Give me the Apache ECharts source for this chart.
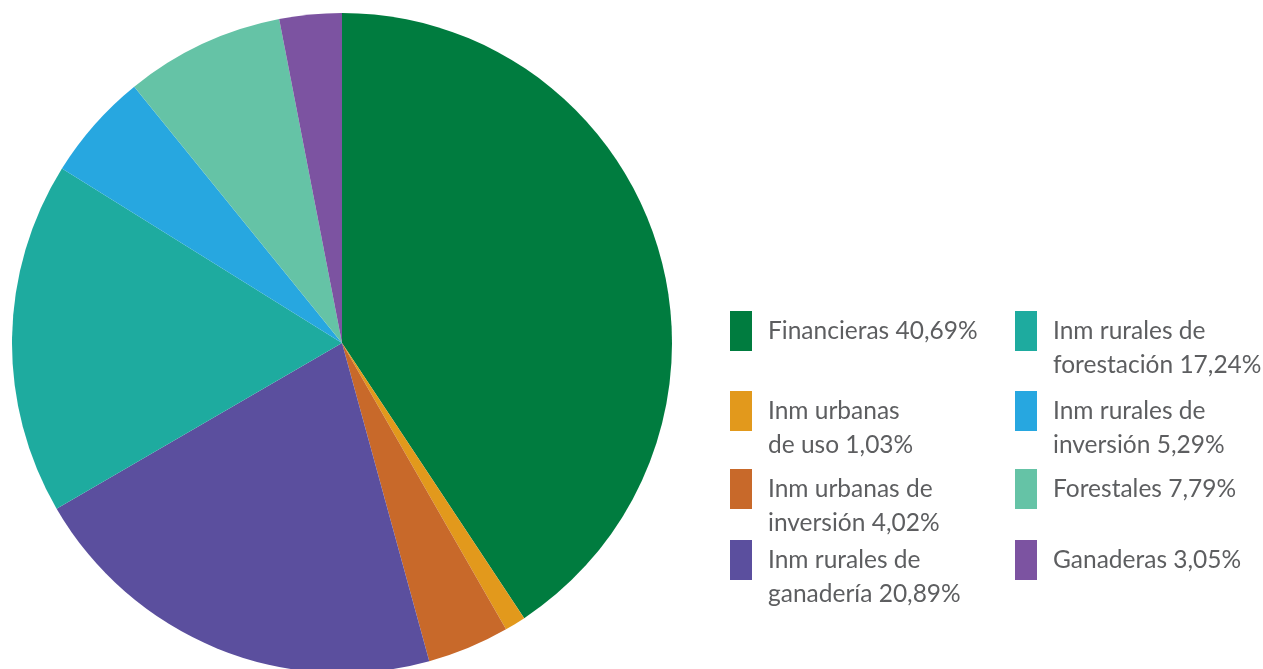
<!DOCTYPE html>
<html>
<head>
<meta charset="utf-8">
<script src="https://cdn.jsdelivr.net/npm/echarts@6/dist/echarts.min.js"></script>
<style>
  html, body { margin: 0; padding: 0; background: #fff; }
  #main { width: 1263px; height: 669px; }
</style>
</head>
<body>
<div id="main"></div>
<script>
// categorias y porcentajes (orden horario desde arriba)
const categories = [
  'Financieras',
  'Inm urbanas\nde uso',
  'Inm urbanas de\ninversión',
  'Inm rurales de\nganadería',
  'Inm rurales de\nforestación',
  'Inm rurales de\ninversión',
  'Forestales',
  'Ganaderas'
];
const values = [40.69, 1.03, 4.02, 20.89, 17.24, 5.29, 7.79, 3.05];
const colors = ['#007c3f', '#e2991c', '#c8692a', '#5b4f9e', '#1eab9f', '#27a7e0', '#65c3a6', '#7c53a1'];

// posicion de cada cuadro de la leyenda: [columna, fila]
const legendCol = [0, 0, 0, 0, 1, 1, 1, 1];
const legendRow = [0, 1, 2, 3, 0, 1, 2, 3];
const colLeft = [730, 1015];
const rowTop = [311, 391, 469, 540];

const lineH = 34;
const iconW = 22;
const iconH = 40;

function fmt(v) {
  return v.toFixed(2).replace('.', ',') + '%';
}

const legends = categories.map(function (name, i) {
  const lines = name.split('\n').length;
  // el texto se centra en el cuadro: se antepone una linea vacia
  // por cada linea extra para que la primera quede a la altura del cuadro
  const blank = '\n'.repeat(lines - 1);
  const blockH = (2 * lines - 1) * lineH;
  const offset = Math.max(0, blockH / 2 - iconH / 2);
  return {
    data: [name],
    orient: 'vertical',
    left: colLeft[legendCol[i]],
    top: rowTop[legendRow[i]] - offset,
    padding: 0,
    icon: 'rect',
    itemWidth: iconW,
    itemHeight: iconH,
    formatter: function (n) { return blank + n + ' ' + fmt(values[i]); },
    textStyle: {
      fontFamily: 'Lato',
      fontSize: 24.5,
      color: '#5d5e60',
      lineHeight: lineH,
      padding: [0, 0, 0, 11]
    }
  };
});

const chart = echarts.init(document.getElementById('main'));
chart.setOption({
  animation: false,
  color: colors,
  legend: legends,
  series: [{
    type: 'pie',
    center: [342, 343],
    radius: 330,
    startAngle: 90,
    clockwise: true,
    label: { show: false },
    labelLine: { show: false },
    emphasis: { disabled: true },
    data: categories.map(function (n, i) { return { name: n, value: values[i] }; })
  }]
});
</script>
</body>
</html>
